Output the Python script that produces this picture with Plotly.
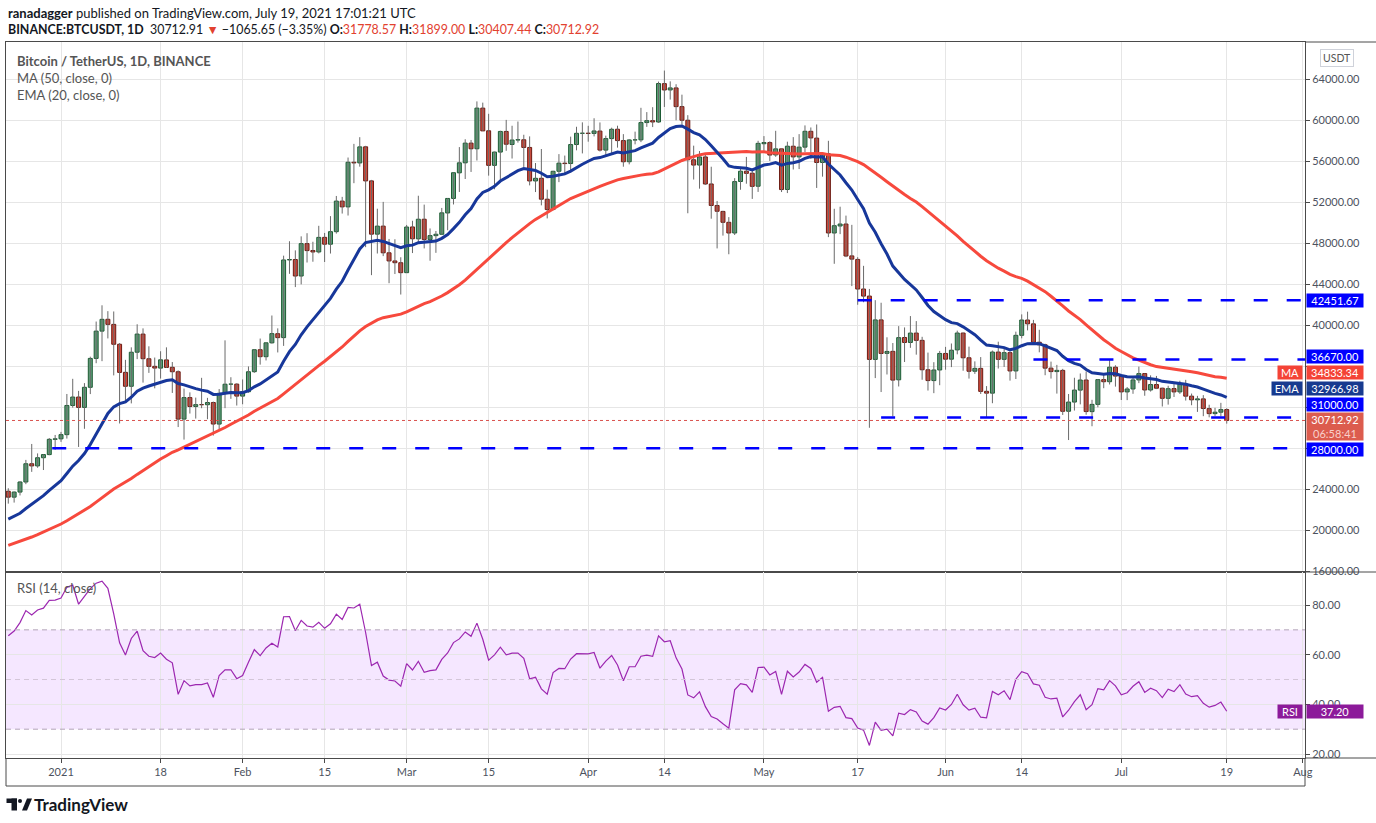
import numpy as np
import pandas as pd
import plotly.graph_objects as go
from plotly.subplots import make_subplots

# daily BINANCE:BTCUSDT candles, 2020-12-23 .. 2021-07-19
DATES = pd.date_range("2020-12-23", "2021-07-19", freq="D")

OPEN = [
    23810, 23232, 23729, 24712, 26493, 26281, 27079, 27385, 28875,
    28923, 29331, 32176, 33000, 31989, 33950, 36769, 39432, 40586, 40088, 38150, 35410, 34050, 37372, 39141, 36737,
    35995, 35824, 36622, 35901, 35468, 30851, 32950, 32078, 32259, 32251, 32465, 30363, 33369, 34262, 34262,
    33092, 33517, 35472, 37620, 36937, 38289, 39181, 38795, 46374, 46420, 44807, 47968, 47298, 47156, 48580, 47911,
    49133, 52117, 51552, 55906, 55841, 57412, 54087, 48891, 49676, 47073, 46277, 46104,
    45134, 49595, 48436, 50349, 48374, 48746, 48882, 50959, 52376, 54874, 55851, 57773, 57221, 61188, 58976, 55605,
    56900, 58912, 57641, 58076, 58100, 57351, 54083, 54342, 52303, 51293, 55026, 55817, 55781, 57635, 58730,
    58740, 58720, 58950, 57092, 58216, 59130, 58021, 55957, 58087, 58091, 59778, 59964, 59835, 63576, 62960, 63159,
    61334, 60006, 56151, 55634, 56425, 53787, 51690, 51110, 50048, 49004, 54030, 55036, 54838, 53568,
    57714, 57825, 56620, 57214, 53251, 57470, 56428, 57381, 58926, 58263, 55885, 56731, 49004, 49686, 49880, 46770,
    46427, 43538, 42850, 36671, 40526, 37263, 37458, 34681, 38810, 38324, 39241, 38529, 35661, 34606, 35641,
    37253, 36694, 37599, 39242, 36830, 35517, 35796, 33556, 33380, 37389, 36677, 37331, 35546, 39021, 40516,
    40143, 38349, 38098, 35820, 35483, 35601, 31614, 32510, 33675, 34663, 31577, 32283, 34702, 34494, 35911,
    35045, 33502, 33786, 34669, 35288, 33690, 34220, 33863, 32875, 33824, 33502, 34259, 33086, 32729, 32820,
    31874, 31383, 31520, 31778.57,
]
HIGH = [
    24100, 23789, 24789, 26867, 28422, 27500, 27410, 28999, 29300,
    29600, 33300, 34778, 33600, 34360, 36939, 40366, 41950, 41380, 41350, 38265, 36628, 37850, 40100, 39700, 37950,
    36852, 37469, 37850, 36415, 35600, 33826, 33456, 32945, 34875, 32921, 32557, 33783, 38531, 34933, 34342,
    34717, 35984, 37662, 38708, 38310, 40955, 39700, 46794, 48200, 47310, 48678, 48985, 48150, 49707, 49010, 50652,
    52618, 52530, 56368, 57700, 58352, 57508, 54183, 51374, 52041, 48424, 48394, 46638,
    49790, 50200, 52640, 51773, 49448, 49200, 51450, 52402, 54895, 57387, 58150, 58081, 61844, 61724, 60633, 56938,
    58982, 60040, 59468, 59880, 58589, 58430, 55830, 57200, 53230, 55073, 56700, 56559, 58405, 59368, 59800,
    59462, 60200, 59791, 58500, 59279, 59474, 58650, 58153, 58894, 61218, 60800, 61280, 63774, 64854, 63800, 63520,
    62500, 60499, 57526, 57000, 56757, 55470, 52130, 51166, 50554, 54357, 55458, 56428, 55195, 58000,
    58459, 57950, 58974, 57214, 57912, 58360, 58650, 59500, 59300, 59592, 56900, 58000, 51367, 51569, 50700, 49800,
    46644, 45800, 43546, 42451, 42200, 38829, 38270, 39920, 39791, 40900, 40411, 38877, 37338, 36400, 37499,
    37894, 38225, 39476, 39289, 37917, 36480, 36900, 34068, 37535, 38400, 37690, 37429, 39380, 41064, 41330,
    40527, 39560, 38200, 36457, 36137, 35750, 33298, 34881, 35298, 35500, 32730, 34749, 35297, 36600, 36100,
    35057, 33977, 34945, 35967, 35293, 35118, 35059, 33909, 34100, 34262, 34590, 34679, 33340, 33114, 33185,
    32249, 31950, 32435, 31899.00,
]
LOW = [
    22600, 22703, 23400, 24500, 25700, 26101, 25880, 27320, 27850,
    28624, 28946, 31962, 28130, 29900, 33288, 36300, 36500, 38720, 35111, 30420, 32531, 32380, 36701, 34408, 35357,
    33850, 34800, 35844, 33400, 30071, 28850, 31390, 30900, 31910, 30837, 29241, 29842, 31915, 32825, 32171,
    32296, 33418, 35362, 36161, 36570, 38215, 37351, 37989, 45020, 43727, 43994, 46125, 46202, 47014, 46174, 47000,
    48947, 50901, 50710, 53863, 55477, 47622, 44892, 47003, 46750, 44106, 45000, 43000,
    45115, 47047, 48100, 47500, 46300, 47070, 48882, 49274, 51789, 53005, 54272, 54962, 56078, 58966, 54600, 53271,
    54123, 57023, 56270, 57820, 55450, 53650, 53000, 51700, 50427, 51229, 53966, 54691, 54901, 57071, 56769,
    57913, 58428, 56955, 56478, 56800, 57333, 55473, 55700, 57654, 57872, 59360, 59337, 59744, 61301, 62021, 60000,
    59580, 50931, 54221, 53329, 53695, 50400, 47500, 48751, 46930, 48806, 53223, 53813, 52330, 53013,
    57025, 56036, 56437, 53001, 52900, 55200, 55241, 56900, 56235, 53400, 54500, 48600, 46000, 48895, 46650, 43825,
    42001, 42250, 30000, 34850, 33488, 35200, 31111, 34031, 36419, 37800, 37134, 34684, 33632, 33379, 34153,
    35666, 35920, 37170, 35567, 34800, 35258, 33300, 31000, 32396, 35783, 35936, 34600, 34757, 38730, 39506,
    38116, 37365, 35129, 34803, 33336, 31251, 28805, 31683, 32286, 31275, 30151, 32000, 33862, 34225, 34017,
    32711, 32699, 33316, 34357, 33125, 33532, 33777, 32077, 32261, 33005, 33306, 32658, 32202, 31550, 31133,
    31020, 31164, 31108, 30407.44,
]
CLOSE = [
    23232, 23729, 24712, 26493, 26281, 27079, 27385, 28875, 28923,
    29331, 32178, 33000, 31988, 33950, 36769, 39432, 40582, 40088, 38150, 35404, 34051, 37371, 39144, 36742, 35994,
    35828, 36631, 35891, 35468, 30850, 32945, 32078, 32259, 32254, 32467, 30366, 33364, 34252, 34262, 33092,
    33526, 35466, 37618, 36936, 38290, 39186, 38795, 46374, 46420, 44807, 47969, 47287, 47153, 48577, 47911, 49133,
    52119, 51552, 55906, 55841, 57408, 54087, 48891, 49676, 47073, 46277, 46106, 45135,
    49587, 48440, 50349, 48374, 48751, 48882, 50971, 52376, 54885, 55851, 57773, 57221, 61188, 58968, 55605, 56900,
    58913, 57665, 58075, 58107, 57351, 54083, 54340, 52303, 51293, 55025, 55817, 55777, 57635, 58730, 58741,
    58720, 58960, 57094, 58216, 59123, 58019, 55956, 58083, 58092, 59778, 59964, 59835, 63588, 62959, 63159, 61334,
    60006, 56150, 55633, 56425, 53787, 51690, 51125, 50047, 49004, 54021, 55033, 54824, 53555, 57750,
    57828, 56610, 57213, 53242, 57473, 56428, 57380, 58928, 58280, 55883, 56751, 49007, 49717, 49880, 46760, 46456,
    43538, 42850, 36671, 40526, 37252, 37449, 34655, 38796, 38324, 39241, 38529, 35663, 34605, 35641, 37254,
    36693, 37568, 39246, 36829, 35513, 35796, 33552, 33380, 37388, 36675, 37331, 35546, 39020, 40516, 40144,
    38349, 38092, 35819, 35483, 35600, 31608, 32509, 33678, 34663, 31584, 32283, 34700, 34494, 35911, 35045,
    33504, 33787, 34668, 35287, 33690, 34220, 33862, 32875, 33815, 33502, 34259, 33086, 32729, 32820, 31880,
    31383, 31520, 31778, 30712.92,
]

# closes from Oct 1 to Dec 22 2020, only used to warm up MA / EMA / RSI
PRIOR_CLOSE = [
    10619, 10570, 10542, 10666, 10792, 10599, 10666, 10925, 11050, 11296, 11384, 11555, 11425, 11430, 11503, 11322,
    11359, 11484, 11742, 11916, 12823, 12965, 12931, 13108, 13031, 13072, 13654, 13271, 13437, 13546, 13781,
    13737, 13550, 14020, 14144, 15590, 15579, 14818, 15475, 15328, 15297, 15701, 16276, 16317, 16068, 15955, 16716,
    17645, 17804, 17817, 18621, 18642, 18370, 18364, 19107, 18732, 17150, 17139, 17719, 18185, 19695,
    18765, 19204, 19422, 18650, 19147, 19359, 19166, 18324, 18541, 18254, 18036, 18808, 19175, 19273, 19426, 21335,
    22797, 23107, 23821, 23455, 22719, 23810,
]

LEVELS = [42451.67, 36670.00, 31000.00, 28000.00]
LEVEL_START = ["2021-05-17", "2021-06-16", "2021-05-21", "2020-12-30 12:00"]

TICK_DATES = ["2021-01-01", "2021-01-18", "2021-02-01", "2021-02-15", "2021-03-01", "2021-03-15",
              "2021-04-01", "2021-04-14", "2021-05-01", "2021-05-17", "2021-06-01", "2021-06-14",
              "2021-07-01", "2021-07-19", "2021-08-01"]
TICK_TEXT = ["2021", "18", "Feb", "15", "Mar", "15", "Apr", "14", "May", "17", "Jun", "14", "Jul", "19", "Aug"]
PRICE_TICKS = [16000, 20000, 24000, 28000, 32000, 36000, 40000, 44000, 48000, 52000, 56000, 60000, 64000]
COVERED_TICKS = [28000, 32000, 36000]  # labels hidden under the price tags in the reference
RSI_TICKS = [20, 40, 60, 80]

LAST_PRICE = 30712.92
COUNTDOWN = "06:58:41"
MA_LAST = 34833.34
EMA_LAST = 32966.98
RSI_LAST = 37.20

X_START, X_END = "2020-12-22 14:38", "2021-08-01 08:38"

FONT = "Lato"
UP_FILL, UP_EDGE = "#5d9f78", "#1c5a33"
DN_FILL, DN_EDGE = "#d4483a", "#6a1a12"
MA_COL, EMA_COL = "#f7493d", "#17379a"
LEVEL_COL = "#0000ff"
RSI_COL = "#9c27b0"


def px_x(px):
    return (px - 6) / 1299


def px_y(py):
    return (758 - py) / 716


# indicators
allc = pd.Series(PRIOR_CLOSE + CLOSE, dtype=float)
n = len(CLOSE)
ma50 = allc.rolling(50).mean().iloc[-n:].to_numpy()
ema20 = allc.ewm(span=20, adjust=False).mean().iloc[-n:].to_numpy()
delta = allc.diff()
gain = delta.clip(lower=0).ewm(alpha=1 / 14, adjust=False).mean()
loss = (-delta.clip(upper=0)).ewm(alpha=1 / 14, adjust=False).mean()
rsi = (100 - 100 / (1 + gain / loss)).iloc[-n:].to_numpy()

o, h, l, c = (np.array(a, dtype=float) for a in (OPEN, HIGH, LOW, CLOSE))
up = c >= o

fig = make_subplots(rows=2, cols=1, shared_xaxes=True, vertical_spacing=0,
                    row_heights=[0.7402, 0.2598])

# wicks
wx, wy = [], []
for d, lo, hi in zip(DATES, l, h):
    wx += [d, d, None]
    wy += [lo, hi, None]
fig.add_trace(go.Scatter(x=wx, y=wy, mode="lines", line=dict(color="#6a6a6a", width=1),
                         hoverinfo="skip"), row=1, col=1)

fig.add_trace(go.Scatter(x=DATES, y=ma50, mode="lines", line=dict(color=MA_COL, width=3)), row=1, col=1)
fig.add_trace(go.Scatter(x=DATES, y=ema20, mode="lines", line=dict(color=EMA_COL, width=3)), row=1, col=1)

# candle bodies
fig.add_trace(go.Bar(
    x=DATES, y=np.abs(c - o), base=np.minimum(o, c),
    width=0.68 * 86400000,
    marker=dict(color=np.where(up, UP_FILL, DN_FILL),
                line=dict(color=np.where(up, UP_EDGE, DN_EDGE), width=1)),
), row=1, col=1)

fig.add_trace(go.Scatter(x=DATES, y=rsi, mode="lines", line=dict(color=RSI_COL, width=1.2)), row=2, col=1)

shapes = []
for lvl, start in zip(LEVELS, LEVEL_START):
    shapes.append(dict(type="line", xref="x", yref="y", x0=start, x1=X_END, y0=lvl, y1=lvl,
                       line=dict(color=LEVEL_COL, width=2.5, dash="14px,19px")))
shapes.append(dict(type="line", xref="paper", yref="y", x0=0, x1=1, y0=LAST_PRICE, y1=LAST_PRICE,
                   line=dict(color="#d9534f", width=1, dash="dot")))
# RSI band
shapes.append(dict(type="rect", xref="paper", yref="y2", x0=0, x1=1, y0=30, y1=70,
                   fillcolor="rgba(153,21,255,0.1)", line_width=0, layer="below"))
for v, col in [(70, "#b3a6b8"), (50, "#d3c6d8"), (30, "#b3a6b8")]:
    shapes.append(dict(type="line", xref="paper", yref="y2", x0=0, x1=1, y0=v, y1=v,
                       line=dict(color=col, width=1, dash="5px,4px")))
# outer frame
frame = "#4a4a4a"
for yy in (1.0, px_y(572), 0.0):
    shapes.append(dict(type="line", xref="paper", yref="paper", x0=1, x1=px_x(1376), y0=yy, y1=yy,
                       line=dict(color=frame, width=1)))
shapes.append(dict(type="line", xref="paper", yref="paper", x0=0, x1=1, y0=px_y(786), y1=px_y(786),
                   line=dict(color=frame, width=1)))
for xx in (0, 1):
    shapes.append(dict(type="line", xref="paper", yref="paper", x0=xx, x1=xx, y0=px_y(786), y1=0,
                       line=dict(color=frame, width=1)))
# TradingView logo glyph
logo = "#131722"
shapes += [
    dict(type="rect", xref="paper", yref="paper", x0=px_x(6.5), x1=px_x(17), y0=px_y(803), y1=px_y(798.5),
         fillcolor=logo, line_width=0),
    dict(type="rect", xref="paper", yref="paper", x0=px_x(11.5), x1=px_x(17), y0=px_y(810.5), y1=px_y(798.5),
         fillcolor=logo, line_width=0),
    dict(type="circle", xref="paper", yref="paper", x0=px_x(18), x1=px_x(22), y0=px_y(803), y1=px_y(799),
         fillcolor=logo, line_width=0),
    dict(type="path", xref="paper", yref="paper",
         path=f"M {px_x(22)},{px_y(810.5)} L {px_x(27)},{px_y(798.5)} L {px_x(32)},{px_y(798.5)} "
              f"L {px_x(27)},{px_y(810.5)} Z",
         fillcolor=logo, line_width=0),
]

ann = []


def text(px, py, s, size=12, color="#555", anchor="left"):
    ann.append(dict(xref="paper", yref="paper", x=px_x(px), y=px_y(py), text=s, showarrow=False,
                    xanchor=anchor, yanchor="middle", font=dict(family=FONT, size=size, color=color)))


red = "#e2412f"
text(6, 13, "<b>ranadagger</b> published on TradingView.com, July 19, 2021 17:01:21 UTC", 13, "#131722")
text(6, 29.5, f"<b>BINANCE:BTCUSDT, 1D</b>  30712.91 <span style='color:{red}'>▼</span> −1065.65 (−3.35%) "
              f"<b>O:</b><span style='color:{red}'>31778.57</span> <b>H:</b><span style='color:{red}'>31899.00</span> "
              f"<b>L:</b><span style='color:{red}'>30407.44</span> <b>C:</b><span style='color:{red}'>30712.92</span>",
     12.4, "#131722")
text(15, 61, "<b>Bitcoin / TetherUS, 1D, BINANCE</b>", 13, "#555")
text(15, 78, "MA (50, close, 0)", 13, "#555")
text(15, 95, "EMA (20, close, 0)", 13, "#555")
text(15, 588, "RSI (14, close)", 13, "#555")
text(32, 805, "<b>TradingView</b>", 17, "#131722")

ann.append(dict(xref="paper", yref="paper", x=px_x(1337), y=px_y(58), text="USDT", showarrow=False,
                xanchor="center", yanchor="middle",
                font=dict(family=FONT, size=10.5, color="#555"), bordercolor="#cfd2da", borderwidth=1,
                borderpad=2, bgcolor="white"))


def tag(yref, y, s, bg, yshift=0, height=11, left=None, left_w=24):
    ann.append(dict(xref="paper", yref=yref, x=1, y=y, text=s, showarrow=False, xanchor="left",
                    xshift=1, yshift=yshift, width=54, height=height, borderpad=1, bgcolor=bg,
                    font=dict(family=FONT, size=11, color="white")))
    if left:
        ann.append(dict(xref="paper", yref=yref, x=1, y=y, text=left, showarrow=False, xanchor="right",
                        xshift=-2, yshift=yshift, width=left_w, height=height, borderpad=1, bgcolor=bg,
                        font=dict(family=FONT, size=11, color="white")))


tag("y", LEVELS[0], f"{LEVELS[0]:.2f}", LEVEL_COL)
tag("y", LEVELS[1], f"{LEVELS[1]:.2f}", LEVEL_COL, yshift=3)
tag("y", MA_LAST, f"{MA_LAST:.2f}", "#f44336", yshift=5.5, left="MA", left_w=22)
tag("y", EMA_LAST, f"{EMA_LAST:.2f}", "#173a8f", yshift=9, left="EMA", left_w=28)
tag("y", LEVELS[2], f"{LEVELS[2]:.2f}", LEVEL_COL, yshift=13)
tag("y", LAST_PRICE, f"{LAST_PRICE:.2f}<br><span style='color:#f8d0cb'>{COUNTDOWN}</span>", "#dc5c4e",
    yshift=-6, height=25)
tag("y", LEVELS[3], f"{LEVELS[3]:.2f}", LEVEL_COL, yshift=-1.5)
tag("y2", RSI_LAST, f"{RSI_LAST:.2f}", "#8c1a9a", left="RSI", left_w=22)

axis_font = dict(family=FONT, size=11, color="#4c525e")
grid = "#e6e6e6"
price_text = ["" if v in COVERED_TICKS else f"{v:.2f}" for v in PRICE_TICKS]

fig.update_layout(
    width=1376, height=823,
    margin=dict(l=6, r=71, t=42, b=65),
    paper_bgcolor="white", plot_bgcolor="white",
    showlegend=False, hovermode=False, barmode="overlay",
    shapes=shapes, annotations=ann,
    font=dict(family=FONT),
)
fig.update_xaxes(type="date", range=[X_START, X_END], tickvals=TICK_DATES, ticktext=TICK_TEXT,
                 showgrid=True, gridcolor=grid, showline=True, linecolor=frame, mirror=True,
                 zeroline=False, rangeslider_visible=False)
fig.update_xaxes(showticklabels=False, ticks="", row=1, col=1)
fig.update_xaxes(ticks="outside", ticklen=4, tickcolor=frame, tickfont=axis_font, row=2, col=1)
fig.update_yaxes(side="right", range=[15932, 67639], tickvals=PRICE_TICKS, ticktext=price_text,
                 showgrid=True, gridcolor=grid, showline=True, linecolor=frame, mirror=True,
                 ticks="outside", ticklen=4, tickcolor=frame, tickfont=axis_font, zeroline=False,
                 row=1, col=1)
fig.update_yaxes(side="right", range=[18.4, 93.3], tickvals=RSI_TICKS, tickformat=".2f",
                 showgrid=True, gridcolor=grid, showline=True, linecolor=frame, mirror=True,
                 ticks="outside", ticklen=4, tickcolor=frame, tickfont=axis_font, zeroline=False,
                 row=2, col=1)

# page body has a default 8px margin; drop it so the figure sits at the window's corner
fig.write_html("out.html", config={"displayModeBar": False},
               post_script="document.body.style.margin='0';")
